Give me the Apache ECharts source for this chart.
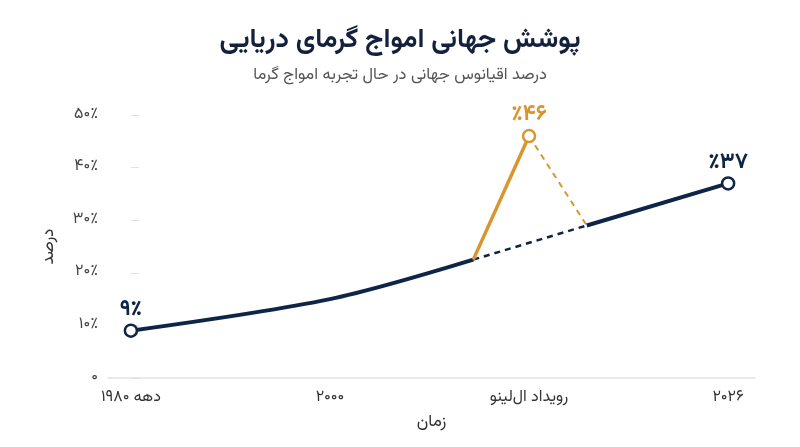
<!DOCTYPE html>
<html>
<head>
<meta charset="utf-8">
<script src="https://cdn.jsdelivr.net/npm/echarts@6/dist/echarts.min.js"></script>
<style>
html,body{margin:0;padding:0;background:#fff;}
#chart{width:800px;height:447px;}
</style>
</head>
<body>
<div id="chart"></div>
<script>
// ---- data ----
const categories = ['دهه ۱۹۸۰', '۲۰۰۰', 'رویداد ال‌لینو', '۲۰۲۶'];
const categoryPositions = [0, 1, 2, 3];
const trendBefore = [[0, 9], [1, 15], [1.72, 22.5]];
const trendGap = [[1.72, 22.5], [2.29, 29]];
const trendAfter = [[2.29, 29], [3, 37]];
const spikeRise = [[1.72, 22.5], [2, 46]];
const spikeFall = [[2, 46], [2.29, 29]];
const yTicks = [0, 10, 20, 30, 40, 50];
const pointLabels = { start: '۹٪', peak: '٪۴۶', end: '٪۳۷' };

const NAVY = '#0e2547';
const ORANGE = '#d9952f';
const FONT = 'Vazirmatn, "Noto Sans Arabic", "DejaVu Sans", sans-serif';

function fa(n) { return String(n).replace(/\d/g, d => '۰۱۲۳۴۵۶۷۸۹'[d]); }

const markerStyle = (c) => ({ color: '#fff', borderColor: c, borderWidth: 2.5 });

function endpoint(pt, c, text) {
  return {
    value: pt, symbol: 'circle', symbolSize: 12, itemStyle: markerStyle(c),
    label: { show: true, position: 'top', distance: 1, formatter: text, color: c,
      fontFamily: FONT, fontWeight: 'bold', fontSize: 22 }
  };
}

const chart = echarts.init(document.getElementById('chart'));
chart.setOption({
  backgroundColor: '#fff',
  animation: false,
  title: {
    text: 'پوشش جهانی امواج گرمای دریایی',
    subtext: 'درصد اقیانوس جهانی در حال تجربه امواج گرما',
    left: 'center', top: 24, itemGap: 12,
    textStyle: { fontFamily: FONT, fontWeight: 'bold', fontSize: 27, color: '#14213d' },
    subtextStyle: { fontFamily: FONT, fontSize: 16.5, color: '#555' }
  },
  grid: { left: 108, right: 45, top: 115, bottom: 69 },
  xAxis: {
    type: 'value', min: -0.115, max: 3.135,
    name: 'زمان', nameLocation: 'middle', nameGap: 37,
    nameTextStyle: { fontFamily: FONT, fontSize: 17, color: '#333' },
    axisLine: { show: true, onZero: false, lineStyle: { color: '#e3e3e3', width: 1.5 } },
    axisTick: { show: false },
    splitLine: { show: false },
    axisLabel: {
      customValues: categoryPositions, margin: 12,
      fontFamily: FONT, fontSize: 16, color: '#333',
      formatter: v => categories[categoryPositions.indexOf(Math.round(v))] || ''
    }
  },
  yAxis: {
    type: 'value', min: yTicks[0], max: yTicks[yTicks.length - 1], interval: 10,
    name: 'درصد', nameLocation: 'middle', nameGap: 49, nameRotate: 90,
    nameTextStyle: { fontFamily: FONT, fontSize: 17, color: '#333' },
    axisLine: { show: false },
    axisTick: { show: true, inside: true, length: 8, lineStyle: { color: '#e0e0e0' } },
    splitLine: { show: false },
    axisLabel: {
      margin: 10, fontFamily: FONT, fontSize: 16, color: '#444',
      formatter: v => v === 0 ? '۰' : fa(v) + '٪'
    }
  },
  series: [
    {
      type: 'line', smooth: 0.3, symbol: 'none', z: 3,
      lineStyle: { color: NAVY, width: 4 },
      data: trendBefore.map((p, i) => i === 0 ? endpoint(p, NAVY, pointLabels.start) : { value: p })
    },
    {
      type: 'line', symbol: 'none', z: 2,
      lineStyle: { color: NAVY, width: 2.5, type: [6, 5] },
      data: trendGap
    },
    {
      type: 'line', symbol: 'none', z: 3,
      lineStyle: { color: NAVY, width: 4 },
      data: trendAfter.map((p, i) => i === trendAfter.length - 1 ? endpoint(p, NAVY, pointLabels.end) : { value: p })
    },
    {
      type: 'line', symbol: 'none', z: 4,
      lineStyle: { color: ORANGE, width: 3.5 },
      data: spikeRise.map((p, i) => i === spikeRise.length - 1 ? endpoint(p, ORANGE, pointLabels.peak) : { value: p })
    },
    {
      type: 'line', symbol: 'none', z: 2,
      lineStyle: { color: ORANGE, width: 2, type: [6, 5] },
      data: spikeFall
    }
  ]
});
</script>
</body>
</html>
